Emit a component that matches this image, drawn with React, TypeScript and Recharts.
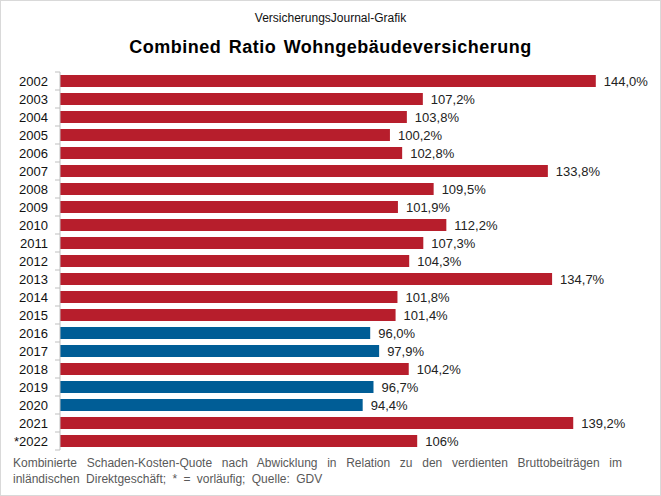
import React from "react";
import { BarChart, Bar, XAxis, YAxis, Cell, LabelList } from "recharts";

const years = ["2002","2003","2004","2005","2006","2007","2008","2009","2010","2011","2012","2013","2014","2015","2016","2017","2018","2019","2020","2021","*2022"];
const ratios = [144.0,107.2,103.8,100.2,102.8,133.8,109.5,101.9,112.2,107.3,104.3,134.7,101.8,101.4,96.0,97.9,104.2,96.7,94.4,139.2,106];
const valueLabels = ["144,0%","107,2%","103,8%","100,2%","102,8%","133,8%","109,5%","101,9%","112,2%","107,3%","104,3%","134,7%","101,8%","101,4%","96,0%","97,9%","104,2%","96,7%","94,4%","139,2%","106%"];

const RED = "#B71E2C";
const BLUE = "#005D96";
const FONT = "'Liberation Sans', Arial, sans-serif";

const data = years.map((y, i) => ({ year: y, value: ratios[i], label: valueLabels[i] }));

const CHART_W = 659;
const CHART_H = 494;
const MARGIN = { top: 71, right: 36, bottom: 45, left: 0 };
const BAND = (CHART_H - MARGIN.top - MARGIN.bottom) / years.length;
const AXIS_X = 59;

const YTick = (props: any) => {
  const { y, payload, index } = props;
  const ax = AXIS_X;
  return (
    <g>
      <line x1={ax - 5} x2={ax} y1={y - BAND / 2} y2={y - BAND / 2} stroke="#bfbfbf" strokeWidth={1} />
      {index === years.length - 1 && (
        <line x1={ax - 5} x2={ax} y1={y + BAND / 2} y2={y + BAND / 2} stroke="#bfbfbf" strokeWidth={1} />
      )}
      <text x={ax - 12} y={y} dy={4.5} textAnchor="end" fontSize={13} fill="#111" fontFamily={FONT}>
        {payload.value}
      </text>
    </g>
  );
};

export default function App() {
  return (
    <div
      style={{
        position: "absolute",
        left: 0,
        top: 0,
        width: 661,
        height: 496,
        boxSizing: "border-box",
        border: "1px solid #d9d9d9",
        background: "#fff",
        fontFamily: FONT,
      }}
    >
      <div style={{ position: "absolute", top: 10, left: 0, width: CHART_W, textAlign: "center", fontSize: 12, color: "#111" }}>
        VersicherungsJournal-Grafik
      </div>
      <div
        style={{
          position: "absolute",
          top: 36,
          left: 0,
          width: CHART_W,
          textAlign: "center",
          fontSize: 18,
          fontWeight: "bold",
          letterSpacing: 0.5,
          wordSpacing: 2,
          color: "#000",
        }}
      >
        Combined Ratio Wohngebäudeversicherung
      </div>
      <BarChart
        width={CHART_W}
        height={CHART_H}
        data={data}
        layout="vertical"
        margin={MARGIN}
        barSize={12}
      >
        <XAxis type="number" domain={[30, 150]} hide allowDataOverflow />
        <YAxis
          type="category"
          dataKey="year"
          width={AXIS_X}
          axisLine={{ stroke: "#bfbfbf" }}
          tickLine={false}
          tick={<YTick />}
          interval={0}
        />
        <Bar dataKey="value" isAnimationActive={false}>
          {data.map((d, i) => (
            <Cell key={i} fill={d.value < 100 ? BLUE : RED} />
          ))}
          <LabelList
            dataKey="label"
            position="right"
            offset={8}
            fontSize={13}
            fill="#222"
            fontFamily={FONT}
          />
        </Bar>
      </BarChart>
      <div style={{ position: "absolute", left: 12, top: 454, width: 609, fontSize: 12, color: "#595959", lineHeight: "16px" }}>
        <div style={{ textAlign: "justify", textAlignLast: "justify" as any }}>
          Kombinierte Schaden-Kosten-Quote nach Abwicklung in Relation zu den verdienten Bruttobeiträgen im
        </div>
        <div style={{ wordSpacing: 3 }}>inländischen Direktgeschäft; * = vorläufig; Quelle: GDV</div>
      </div>
    </div>
  );
}
